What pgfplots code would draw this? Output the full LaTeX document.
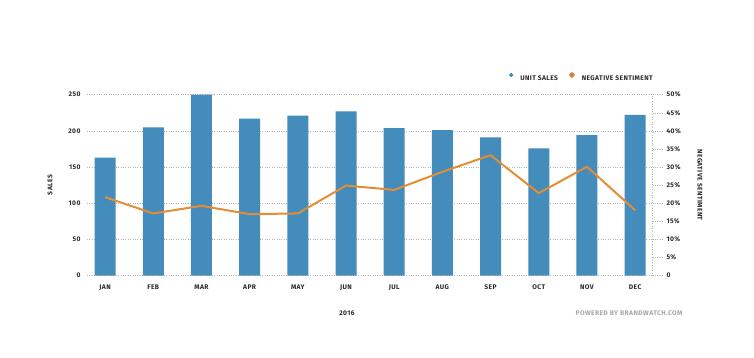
\documentclass[border=0pt]{standalone}
\usepackage{fontspec}
\setmainfont{Fira Sans}[LetterSpace=6]
\usepackage{pgfplots}
\pgfplotsset{compat=1.18}
\definecolor{barblue}{HTML}{438CBB}
\definecolor{lineorange}{HTML}{E38E35}
\definecolor{legorange}{HTML}{E07B3A}
\definecolor{legblue}{HTML}{2F8CC2}
\definecolor{gridgray}{HTML}{B4B4B4}
\definecolor{txt}{HTML}{2B2B2B}
\definecolor{powered}{HTML}{A8A8A8}
\newcommand{\lbl}{\fontsize{6.7}{7.5}\selectfont\bfseries\color{txt}}
\begin{document}
\begin{tikzpicture}[x=1pt,y=1pt]
\path[use as bounding box, fill=white] (0,0) rectangle (754,357);
\begin{axis}[
  at={(87pt,81.3pt)}, anchor=south west, scale only axis,
  width=565pt, height=181pt,
  xmin=-0.375, xmax=11.35, ymin=0, ymax=250,
  axis line style={draw=none}, major tick length=0pt,
  xtick={0,...,11},
  xticklabels={JAN,FEB,MAR,APR,MAY,JUN,JUL,AUG,SEP,OCT,NOV,DEC},
  ytick={0,50,100,150,200,250},
  yticklabels={0,50,100,150,200,250},
  ticklabel style={font=\lbl},
  xticklabel style={yshift=-6pt},
  yticklabel style={xshift=-3pt},
  ymajorgrids, grid style={gridgray, dotted, line width=0.6pt},
  clip=false,
]
\addplot[ybar, bar width=21pt, bar shift=0pt, fill=barblue, draw=none]
coordinates {(0,163) (1,205) (2,250) (3,217) (4,221) (5,227) (6,204) (7,201) (8,191) (9,176) (10,194) (11,222)};
\end{axis}
\begin{axis}[
  at={(87pt,81.3pt)}, anchor=south west, scale only axis,
  width=565pt, height=181pt,
  xmin=-0.375, xmax=11.35, ymin=0, ymax=50,
  axis x line=none, axis y line*=right,
  y axis line style={gridgray, dotted, line width=0.6pt, -},
  ytick={0,5,...,50},
  yticklabels={0,5\%,10\%,15\%,20\%,25\%,30\%,35\%,40\%,45\%,50\%},
  tick align=outside, major tick length=10pt,
  ytick style={gridgray, dotted, line width=0.6pt},
  yticklabel style={font=\lbl, xshift=1pt},
  legend style={at={(1,1)}, anchor=south east, yshift=9pt, xshift=6pt, draw=none, fill=none,
    font=\lbl, column sep=5pt, /tikz/every even column/.append style={column sep=9pt}},
  legend columns=2,
  clip=false,
]
\addlegendimage{legend image code/.code={\fill[legblue] (0.25em,0.65ex) circle (1.9pt);}}
\addlegendentry{UNIT SALES}
\addplot[lineorange, line width=2pt, line join=round,
  legend image code/.code={\fill[legorange] (0.25em,0.65ex) circle (1.9pt);}]
coordinates {(0,21.7) (1,17.2) (2,19.3) (3,17.0) (4,17.2) (5,24.9) (6,23.7) (7,28.7) (8,33.3) (9,22.8) (10,30.1) (11,18.1)};
\addlegendentry{NEGATIVE SENTIMENT}
\end{axis}
\node[rotate=90, font=\lbl] at (50,172) {SALES};
\node[rotate=-90, font=\lbl] at (700,172) {NEGATIVE SENTIMENT};
\node[font=\lbl] at (347,44) {2016};
\node[font=\fontsize{6.7}{7.5}\selectfont\bfseries, text=powered] at (629,44) {POWERED BY BRANDWATCH.COM};
\end{tikzpicture}
\end{document}
